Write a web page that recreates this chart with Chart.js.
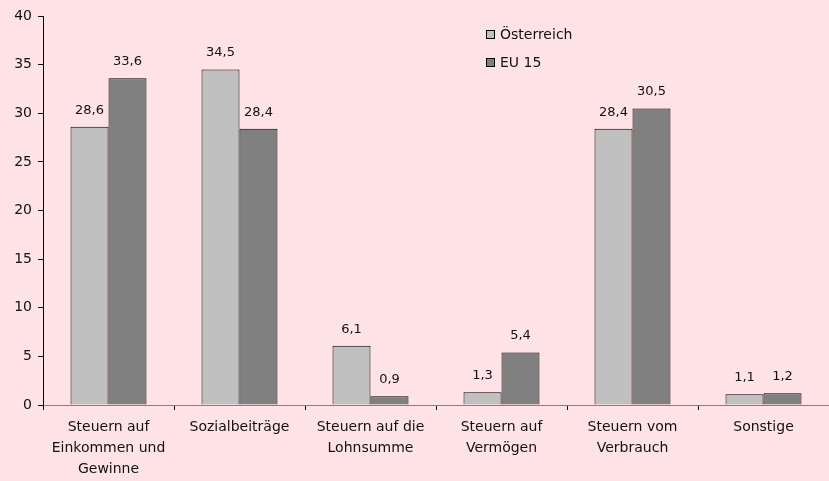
<!DOCTYPE html>
<html><head><meta charset="utf-8">
<script src="https://cdn.jsdelivr.net/npm/chart.js@4/dist/chart.umd.min.js"></script>
<style>html,body{margin:0;padding:0;background:#FFE3E6;}#w{width:829px;height:481px;}</style>
</head><body><div id="w"><canvas id="c" width="829" height="481"></canvas></div>
<script>
const categories = [["Steuern auf","Einkommen und","Gewinne"],"Sozialbeiträge",["Steuern auf die","Lohnsumme"],["Steuern auf","Vermögen"],["Steuern vom","Verbrauch"],"Sonstige"];
const seriesNames = ["Österreich","EU 15"];
const oesterreich = [28.6, 34.5, 6.1, 1.3, 28.4, 1.1];
const eu15 = [33.6, 28.4, 0.9, 5.4, 30.5, 1.2];
const yTicks = [0,5,10,15,20,25,30,35,40];
const colors = ["#C0C0C0","#808080"];
const FONT = "DejaVu Sans";

const labelPlugin = {
  id:'vals',
  afterDatasetsDraw(chart){
    const ctx = chart.ctx;
    ctx.save();
    ctx.font = "13px '"+FONT+"'";
    ctx.fillStyle = "#111";
    ctx.textAlign = "center";
    ctx.textBaseline = "alphabetic";
    chart.data.datasets.forEach((ds,i)=>{
      chart.getDatasetMeta(i).data.forEach((bar,j)=>{
        ctx.fillText(String(ds.data[j]).replace('.',','), bar.x, bar.y-13);
      });
    });
    ctx.restore();
  }
};
const legendPlugin = {
  id:'leg',
  afterDraw(chart){
    const ctx = chart.ctx;
    ctx.save();
    ctx.font = "14px '"+FONT+"'";
    ctx.textBaseline = "middle";
    chart.data.datasets.forEach((ds,i)=>{
      const x = 486, y = 30 + i*28;
      ctx.fillStyle = ds.backgroundColor;
      ctx.fillRect(x, y, 9, 9);
      ctx.strokeStyle = "#000"; ctx.lineWidth = 1;
      ctx.strokeRect(x+0.5, y+0.5, 8, 8);
      ctx.fillStyle = "#111";
      ctx.fillText(ds.label, x+14, y+5);
    });
    ctx.restore();
  }
};

new Chart(document.getElementById('c'), {
  type:'bar',
  data:{
    labels: categories,
    datasets:[
      {label:seriesNames[0], data:oesterreich, backgroundColor:colors[0], borderColor:"#000", borderWidth:1, borderSkipped:'bottom'},
      {label:seriesNames[1], data:eu15, backgroundColor:colors[1], borderColor:"#000", borderWidth:1, borderSkipped:'bottom'}
    ]
  },
  options:{
    responsive:false, animation:false,
    layout:{padding:{top:16,right:0,left:0,bottom:0}},
    datasets:{bar:{categoryPercentage:0.58, barPercentage:1.0}},
    plugins:{legend:{display:false}, tooltip:{enabled:false}},
    scales:{
      x:{
        grid:{offset:true, drawOnChartArea:false, drawTicks:true, tickLength:5, color:"#000"},
        border:{color:"#808080", width:1},
        ticks:{color:"#111", font:{family:FONT,size:14, lineHeight:1.5}, padding:7, maxRotation:0, autoSkip:false},
        afterFit(s){ s.height = 76; }
      },
      y:{
        min:0, max:40,
        afterBuildTicks(s){ s.ticks = yTicks.map(v=>({value:v})); },
        grid:{drawOnChartArea:false, drawTicks:true, tickLength:5, color:"#000"},
        border:{color:"#000", width:1},
        ticks:{color:"#111", font:{family:FONT,size:14}, padding:6},
        afterFit(s){ s.width = 43; }
      }
    }
  },
  plugins:[labelPlugin, legendPlugin]
});
</script></body></html>
